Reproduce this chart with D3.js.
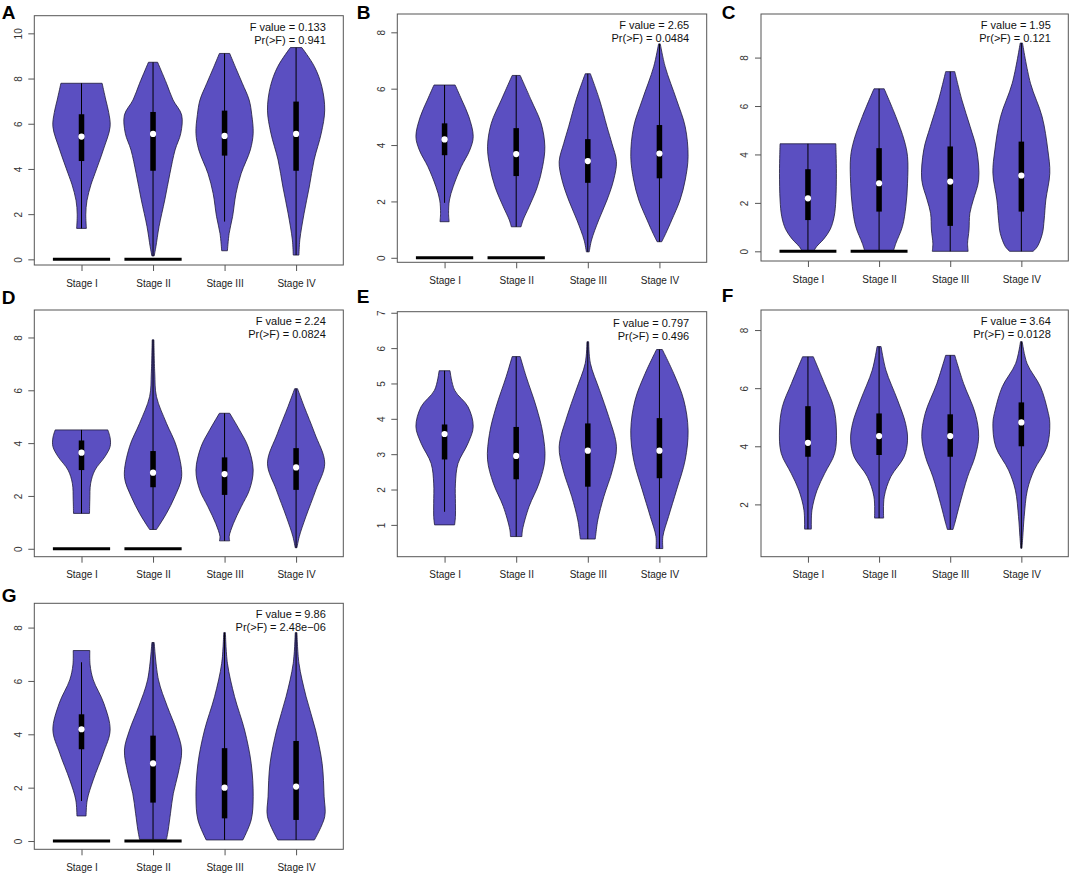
<!DOCTYPE html>
<html>
<head>
<meta charset="utf-8">
<script src="https://cdn.jsdelivr.net/npm/d3@7/dist/d3.min.js"></script>
<style>
  html, body { margin: 0; padding: 0; background: #fff; }
  svg { display: block; }
  text { font-family: "Liberation Sans", Arial, sans-serif; }
</style>
</head>
<body>
<svg id="chart" width="1072" height="876"></svg>
<script>
// ---------------- DATA ----------------
const stages = ["Stage I", "Stage II", "Stage III", "Stage IV"];
const panelLabels = ["A", "B", "C", "D", "E", "F", "G"];
const fValues = ["0.133", "2.65", "1.95", "2.24", "0.797", "3.64", "9.86"];
const pValues = ["0.941", "0.0484", "0.121", "0.0824", "0.496", "0.0128", "2.48e\u221206"];

const yTicks = [
  [0, 2, 4, 6, 8, 10],
  [0, 2, 4, 6, 8],
  [0, 2, 4, 6, 8],
  [0, 2, 4, 6, 8],
  [1, 2, 3, 4, 5, 6, 7],
  [2, 4, 6, 8],
  [0, 2, 4, 6, 8]
];
const yRanges = [
  [-0.25, 10.78],
  [-0.16, 8.65],
  [-0.40, 9.80],
  [-0.30, 9.04],
  [0.10, 7.03],
  [0.20, 8.69],
  [-0.31, 8.91]
];

// medians, first quartiles, third quartiles (per panel, per stage)
const medians = [
  [5.43, 5.55, 5.46, 5.55],
  [4.20, 3.68, 3.43, 3.70],
  [2.19, 2.81, 2.88, 3.13],
  [3.64, 2.88, 2.83, 3.08],
  [3.57, 2.95, 3.10, 3.10],
  [4.12, 4.35, 4.35, 4.82],
  [4.19, 2.91, 2.00, 2.04]
];
const q1s = [
  [4.35, 3.92, 4.59, 3.92],
  [3.64, 2.90, 2.66, 2.82],
  [1.29, 1.64, 1.05, 1.64],
  [2.98, 2.33, 2.04, 2.23],
  [2.85, 2.29, 2.08, 2.32],
  [3.64, 3.70, 3.64, 4.00],
  [3.44, 1.44, 0.85, 0.79]
];
const q3s = [
  [6.42, 6.52, 6.58, 6.98],
  [4.77, 4.60, 4.21, 4.71],
  [3.39, 4.26, 4.33, 4.53],
  [4.10, 3.70, 3.46, 3.81],
  [3.84, 3.77, 3.87, 4.02],
  [5.38, 5.13, 5.10, 5.51],
  [4.75, 3.95, 3.48, 3.75]
];
// whisker (thin line) lower / upper ends
const whiskerLo = [
  [1.37, 0.15, 1.67, 0.19],
  [1.95, 1.10, 0.21, 0.57],
  [0.00, 0.00, 0.00, 0.00],
  [1.34, 0.73, 0.30, 0.04],
  [1.37, 0.67, 0.60, 0.33],
  [1.15, 1.53, 1.14, 0.49],
  [1.50, 0.06, 0.04, 0.04]
];
const whiskerHi = [
  [7.79, 8.72, 9.11, 9.37],
  [6.13, 6.47, 6.53, 7.59],
  [4.44, 6.71, 7.42, 8.60],
  [4.50, 7.91, 5.13, 6.06],
  [5.36, 5.76, 6.18, 5.96],
  [7.08, 7.43, 7.13, 7.60],
  [6.70, 7.44, 7.81, 7.81]
];
// groups drawn as a flat bar at zero
const zeroBars = [
  [true, true, false, false],
  [true, true, false, false],
  [true, true, false, false],
  [true, true, false, false],
  [false, false, false, false],
  [false, false, false, false],
  [true, true, false, false]
];
// density profiles: [value, relative half-width]
const profiles = [
  [ // A
    [[1.37,0.17],[2.0,0.15],[2.6,0.19],[3.3,0.33],[3.8,0.47],[4.84,0.76],[5.87,1.0],[6.5,0.95],[7.05,0.85],[7.79,0.72]],
    [[0.15,0.04],[0.56,0.10],[1.45,0.21],[2.63,0.41],[3.8,0.59],[4.84,0.77],[5.58,0.97],[6.39,1.0],[7.05,0.70],[7.79,0.47],[8.72,0.16]],
    [[0.38,0.10],[1.15,0.16],[1.89,0.28],[2.92,0.40],[3.8,0.58],[4.84,0.90],[5.58,1.0],[6.4,0.95],[7.05,0.86],[7.79,0.62],[8.5,0.38],[9.11,0.18]],
    [[0.19,0.10],[0.86,0.13],[2.04,0.28],[3.2,0.46],[4.4,0.63],[5.58,0.88],[6.6,1.0],[7.64,0.90],[8.53,0.64],[9.37,0.20]]
  ],
  [ // B
    [[1.28,0.16],[1.57,0.14],[2.05,0.17],[2.52,0.30],[3.23,0.58],[3.82,0.88],[4.3,1.0],[5.0,0.85],[5.6,0.60],[6.13,0.37]],
    [[1.10,0.17],[1.34,0.24],[1.81,0.45],[2.52,0.74],[3.23,0.92],[3.94,1.0],[4.77,0.87],[5.6,0.52],[6.47,0.14]],
    [[0.21,0.05],[0.63,0.13],[1.34,0.38],[2.05,0.67],[2.76,0.90],[3.41,1.0],[4.06,0.84],[4.65,0.67],[5.6,0.41],[6.53,0.09]],
    [[0.57,0.08],[0.86,0.22],[1.34,0.43],[2.05,0.72],[2.76,0.90],[3.59,1.0],[4.65,0.90],[5.6,0.60],[6.78,0.20],[7.59,0.03]]
  ],
  [ // C
    [[0.0,0.20],[0.19,0.30],[0.5,0.55],[0.9,0.78],[1.43,0.92],[2.12,0.98],[3.22,1.0],[4.0,0.99],[4.44,0.98]],
    [[0.0,0.50],[0.33,0.59],[1.02,0.82],[1.85,0.94],[2.81,1.0],[3.91,1.0],[4.6,0.88],[5.56,0.59],[6.71,0.18]],
    [[0.0,0.63],[0.33,0.61],[0.88,0.66],[1.57,0.69],[2.12,0.81],[2.95,1.0],[4.19,0.93],[5.15,0.70],[6.25,0.41],[7.42,0.16]],
    [[0.0,0.41],[0.19,0.56],[0.74,0.74],[1.29,0.80],[2.12,0.86],[3.22,1.0],[4.19,0.93],[5.56,0.73],[6.94,0.32],[8.60,0.04]]
  ],
  [ // D
    [[1.34,0.28],[1.85,0.29],[2.48,0.32],[2.98,0.47],[3.49,0.82],[3.87,1.0],[4.2,1.0],[4.5,0.92]],
    [[0.73,0.12],[0.83,0.18],[1.34,0.47],[1.97,0.76],[2.73,1.0],[3.87,0.82],[4.75,0.47],[5.76,0.12],[6.65,0.06],[7.91,0.03]],
    [[0.30,0.18],[0.46,0.16],[0.96,0.31],[1.59,0.58],[2.23,0.87],[2.98,1.0],[3.87,0.82],[4.5,0.52],[5.13,0.18]],
    [[0.04,0.03],[0.46,0.11],[1.21,0.34],[2.23,0.69],[3.24,1.0],[4.37,0.65],[5.39,0.28],[6.06,0.05]]
  ],
  [ // E
    [[1.0,0.35],[1.24,0.38],[1.61,0.38],[2.18,0.38],[2.74,0.47],[3.31,0.82],[3.78,1.0],[4.34,0.82],[4.81,0.35],[5.36,0.19]],
    [[0.67,0.20],[0.86,0.22],[1.52,0.45],[2.18,0.80],[2.84,1.0],[3.59,0.93],[4.34,0.70],[5.19,0.35],[5.76,0.14]],
    [[0.60,0.26],[0.67,0.27],[1.14,0.35],[1.8,0.56],[2.55,0.86],[3.21,1.0],[4.06,0.73],[4.81,0.41],[5.57,0.09],[6.18,0.03]],
    [[0.33,0.12],[0.67,0.12],[1.24,0.32],[1.99,0.60],[2.84,0.90],[3.68,1.0],[4.53,0.85],[5.28,0.50],[5.96,0.10]]
  ],
  [ // F
    [[1.15,0.12],[1.8,0.14],[2.49,0.32],[3.07,0.59],[3.76,0.94],[4.56,1.0],[5.36,0.90],[6.16,0.58],[7.08,0.19]],
    [[1.53,0.16],[2.26,0.18],[2.95,0.41],[3.64,0.88],[4.21,1.0],[4.79,0.93],[5.59,0.65],[6.62,0.24],[7.43,0.07]],
    [[1.14,0.10],[1.35,0.16],[2.03,0.34],[2.95,0.61],[3.64,0.87],[4.33,1.0],[5.13,0.88],[6.16,0.47],[7.13,0.16]],
    [[0.49,0.02],[0.89,0.05],[1.58,0.10],[2.49,0.21],[3.18,0.45],[3.98,0.90],[4.79,1.0],[5.25,0.92],[6.05,0.67],[6.85,0.20],[7.6,0.03]]
  ],
  [ // G
    [[0.94,0.16],[1.54,0.20],[2.29,0.41],[3.29,0.76],[4.16,1.0],[5.16,0.78],[6.04,0.41],[6.6,0.30],[7.14,0.29]],
    [[0.06,0.47],[0.41,0.53],[1.04,0.61],[1.79,0.71],[2.54,0.88],[3.41,1.0],[4.16,0.82],[5.04,0.50],[6.04,0.19],[7.44,0.04]],
    [[0.04,0.64],[0.79,0.93],[1.66,1.0],[2.91,0.93],[4.16,0.70],[5.41,0.35],[6.66,0.10],[7.81,0.03]],
    [[0.04,0.64],[0.91,1.0],[1.66,0.98],[2.91,0.91],[4.16,0.68],[5.41,0.35],[6.66,0.10],[7.81,0.03]]
  ]
];

// ---------------- LAYOUT ----------------
const frames = [ // [left, top, right, bottom] of each plot box
  [34.3, 15.7, 343.3, 265.0],
  [397.3, 14.0, 706.7, 262.3],
  [761.0, 14.0, 1068.3, 261.0],
  [34.3, 310.0, 343.3, 556.7],
  [397.3, 311.7, 706.7, 556.7],
  [761.0, 310.0, 1068.3, 556.7],
  [34.3, 603.3, 343.3, 849.3]
];
const labelPos = [[1.7, 18.5], [356.7, 18.5], [721.7, 18.5], [1.7, 303.5], [356.7, 302.5], [721.7, 302.0], [1.7, 601.7]];

const violinFill = "#5b4fc1";
const maxHalf = 0.4;

const svg = d3.select("#chart");
svg.append("rect").attr("width", 1072).attr("height", 876).attr("fill", "#fff");

frames.forEach((fr, p) => {
  const [L, T, R, B] = fr;
  const x = d3.scaleLinear().domain([0.34, 4.66]).range([L, R]);
  const y = d3.scaleLinear().domain(yRanges[p]).range([B, T]);
  const g = svg.append("g");

  // clip so nothing leaks outside plot box
  const clipId = "clip" + p;
  svg.append("clipPath").attr("id", clipId)
    .append("rect").attr("x", L).attr("y", T).attr("width", R - L).attr("height", B - T);
  const plot = g.append("g").attr("clip-path", `url(#${clipId})`);

  stages.forEach((s, i) => {
    const c = i + 1;
    const prof = profiles[p][i];
    const area = d3.area()
      .curve(d3.curveCatmullRom.alpha(0.5))
      .y(d => y(d[0]))
      .x0(d => x(c - d[1] * maxHalf))
      .x1(d => x(c + d[1] * maxHalf));
    plot.append("path")
      .attr("d", area(prof))
      .attr("fill", violinFill)
      .attr("stroke", "#1e1b3a")
      .attr("stroke-width", 0.8);

    // whisker
    plot.append("line")
      .attr("x1", x(c)).attr("x2", x(c))
      .attr("y1", y(whiskerLo[p][i])).attr("y2", y(whiskerHi[p][i]))
      .attr("stroke", "#000").attr("stroke-width", 1);
    // IQR box
    const bw = 5.5;
    plot.append("rect")
      .attr("x", x(c) - bw / 2)
      .attr("y", y(q3s[p][i]))
      .attr("width", bw)
      .attr("height", y(q1s[p][i]) - y(q3s[p][i]))
      .attr("fill", "#000");
    // median
    plot.append("circle")
      .attr("cx", x(c)).attr("cy", y(medians[p][i]))
      .attr("r", 3.1).attr("fill", "#fff");

    if (zeroBars[p][i]) {
      plot.append("line")
        .attr("x1", x(c - maxHalf)).attr("x2", x(c + maxHalf))
        .attr("y1", y(0)).attr("y2", y(0))
        .attr("stroke", "#000").attr("stroke-width", 3);
    }
  });

  // frame
  g.append("rect")
    .attr("x", L).attr("y", T).attr("width", R - L).attr("height", B - T)
    .attr("fill", "none").attr("stroke", "#555").attr("stroke-width", 1);

  // y axis
  const yAxis = g.append("g").attr("transform", `translate(${L},0)`)
    .call(d3.axisLeft(y).tickValues(yTicks[p]).tickFormat(d3.format("d")).tickSize(6).tickSizeOuter(0));
  yAxis.select(".domain").remove();
  yAxis.selectAll("line").attr("stroke", "#555");
  yAxis.selectAll("text")
    .attr("x", null).attr("dy", null)
    .attr("transform", "translate(-12.6,0) rotate(-90)")
    .attr("text-anchor", "middle")
    .attr("font-size", 10)
    .attr("font-family", "Liberation Sans, Arial, sans-serif")
    .attr("fill", "#333");

  // x axis
  const xAxis = g.append("g").attr("transform", `translate(0,${B})`)
    .call(d3.axisBottom(x).tickValues([1, 2, 3, 4]).tickFormat(d => stages[d - 1]).tickSize(6).tickSizeOuter(0));
  xAxis.select(".domain").remove();
  xAxis.selectAll("line").attr("stroke", "#555");
  xAxis.selectAll("text")
    .attr("y", 21.6).attr("dy", null)
    .attr("font-size", 10)
    .attr("font-family", "Liberation Sans, Arial, sans-serif")
    .attr("fill", "#222");

  // stats text
  const tx = R - 17.5;
  g.append("text").attr("x", tx).attr("y", T + 14.8)
    .attr("text-anchor", "end").attr("font-size", 11).attr("fill", "#111")
    .text("F value = " + fValues[p]);
  g.append("text").attr("x", tx).attr("y", T + 28.1)
    .attr("text-anchor", "end").attr("font-size", 11).attr("fill", "#111")
    .text("Pr(>F) = " + pValues[p]);

  // panel label
  svg.append("text").attr("x", labelPos[p][0]).attr("y", labelPos[p][1])
    .attr("font-size", 19).attr("font-weight", "bold").attr("fill", "#000")
    .text(panelLabels[p]);
});
</script>
</body>
</html>
